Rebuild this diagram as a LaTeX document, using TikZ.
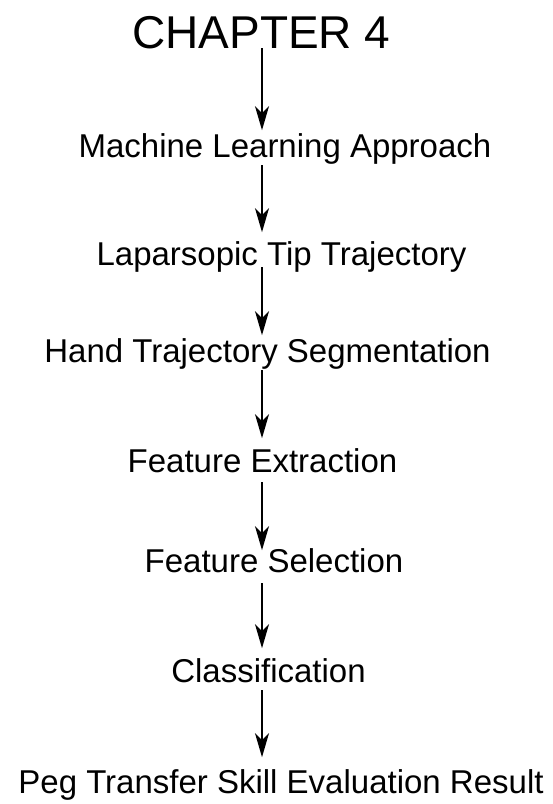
\documentclass[tikz,border=0pt]{standalone}
\usepackage{fontspec}
\setmainfont{Liberation Sans}
\usetikzlibrary{arrows.meta}
\begin{document}
\begin{tikzpicture}[x=1pt,y=1pt,
  stage/.style={anchor=base, inner sep=0pt, text height=23.6pt, text depth=0pt,
    font=\fontsize{33}{40}\selectfont},
  title/.style={anchor=base, inner sep=0pt, text height=33pt, text depth=0pt,
    font=\fontsize{46}{54}\selectfont},
  flow/.style={line width=1.4pt, -{Stealth[length=24pt, width=14pt, inset=7pt]}}]
  \useasboundingbox (0,0) rectangle (553,-804);
  \coordinate (axis) at (262,0);

  \node[title] (ch) at (261.5,-48) {CHAPTER 4};
  \node[stage] (ml) at (285,-157) {Machine Learning Approach};
  \node[stage] (lt) at (281.5,-265) {Laparsopic Tip Trajectory};
  \node[stage] (ht) at (267.5,-362) {Hand Trajectory Segmentation};
  \node[stage] (fe) at (262.5,-472) {Feature Extraction};
  \node[stage] (fs) at (274,-572) {Feature Selection};
  \node[stage] (cl) at (268.5,-682) {Classification};
  \node[stage] (pt) at (281,-793) {Peg Transfer Skill Evaluation Result};

  \draw[flow, shorten <=0pt, shorten >=3pt] (ch.base -| axis) -- (ml.north -| axis);
  \draw[flow, shorten <=8pt, shorten >=9pt] (ml.base -| axis) -- (lt.north -| axis);
  \draw[flow, shorten <=2pt, shorten >=3pt] (lt.base -| axis) -- (ht.north -| axis);
  \draw[flow, shorten <=8pt, shorten >=10pt] (ht.base -| axis) -- (fe.north -| axis);
  \draw[flow, shorten <=10pt, shorten >=-2pt] (fe.base -| axis) -- (fs.north -| axis);
  \draw[flow, shorten <=11pt, shorten >=10pt] (fs.base -| axis) -- (cl.north -| axis);
  \draw[flow, shorten <=8pt, shorten >=12pt] (cl.base -| axis) -- (pt.north -| axis);
\end{tikzpicture}
\end{document}
